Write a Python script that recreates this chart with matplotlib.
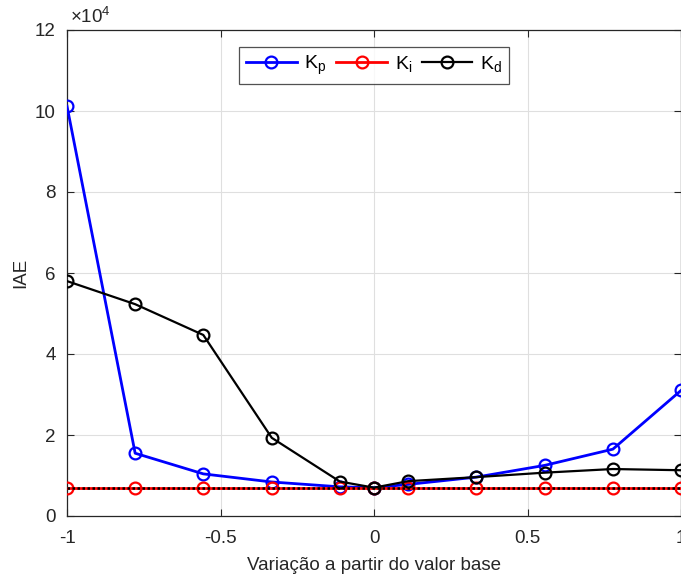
import matplotlib
matplotlib.use("Agg")
from matplotlib import pyplot as plt

plt.rcParams["font.family"] = ["Liberation Sans", "DejaVu Sans"]
plt.rcParams["mathtext.fontset"] = "custom"
plt.rcParams["mathtext.rm"] = "Liberation Sans"
plt.rcParams["mathtext.it"] = "Liberation Sans"

# dados
variacao = [-1, -0.778, -0.556, -0.333, -0.111, 0, 0.111, 0.333, 0.556, 0.778, 1]
iae_kp = [101200, 15500, 10400, 8400, 7200, 7000, 7800, 9600, 12500, 16500, 31000]
iae_ki = [7000, 7000, 7000, 7000, 7000, 7000, 7000, 7000, 7000, 7000, 7000]
iae_kd = [58000, 52300, 44700, 19300, 8500, 7000, 8600, 9600, 10700, 11600, 11300]
iae_base = 7000

y_ticks = [0, 20000, 40000, 60000, 80000, 100000, 120000]
y_labels = ["0", "2", "4", "6", "8", "10", "12"]
x_ticks = [-1, -0.5, 0, 0.5, 1]
x_labels = ["-1", "-0.5", "0", "0.5", "1"]

cinza = "#262626"
fs = 13.5

fig = plt.figure(figsize=(6.81, 5.75), dpi=100)
ax = fig.add_axes([67 / 681, 59 / 575, 614 / 681, 486 / 575])

ax.plot(variacao, iae_kp, color="b", lw=2, marker="o", ms=8.5, mfc="none", mew=1.6,
        label=r"$\mathregular{K_p}$", zorder=3)
ax.plot(variacao, iae_ki, color="r", lw=2, marker="o", ms=8.5, mfc="none", mew=1.6,
        label=r"$\mathregular{K_i}$", zorder=3)
ax.plot(variacao, iae_kd, color="k", lw=1.6, marker="o", ms=8.5, mfc="none", mew=1.6,
        label=r"$\mathregular{K_d}$", zorder=4)
ax.plot([variacao[0], variacao[-1]], [iae_base, iae_base], color="k", lw=1.8,
        linestyle=(0, (1, 1)), zorder=3.5)

ax.set_xlim(-1, 1)
ax.set_ylim(0, 120000)
ax.set_xticks(x_ticks)
ax.set_xticklabels(x_labels)
ax.set_yticks(y_ticks)
ax.set_yticklabels(y_labels)

ax.grid(True, color="#dfdfdf", linewidth=0.8)
ax.set_axisbelow(True)
ax.tick_params(direction="in", length=5, top=True, right=True, labelsize=fs,
               colors=cinza)
ax.tick_params(axis="x", pad=10)
ax.tick_params(axis="y", pad=8)
for s in ax.spines.values():
    s.set_color(cinza)
    s.set_linewidth(0.9)

ax.set_xlabel("Variação a partir do valor base", fontsize=fs, color=cinza, labelpad=7)
ax.set_ylabel("IAE", fontsize=fs, color=cinza, labelpad=4)
ax.text(0.005, 1.006, r"$\times\mathregular{10^4}$", transform=ax.transAxes,
        fontsize=fs, color=cinza, ha="left", va="bottom")

leg = ax.legend(loc="upper center", ncol=3, bbox_to_anchor=(0.5, 0.965), fontsize=fs + 0.5,
                frameon=True, fancybox=False, edgecolor=cinza, handlelength=2.6,
                columnspacing=0.5, handletextpad=0.4, borderpad=0.35, borderaxespad=0)
leg.get_frame().set_linewidth(0.9)

plt.savefig("out.png", dpi=100)
